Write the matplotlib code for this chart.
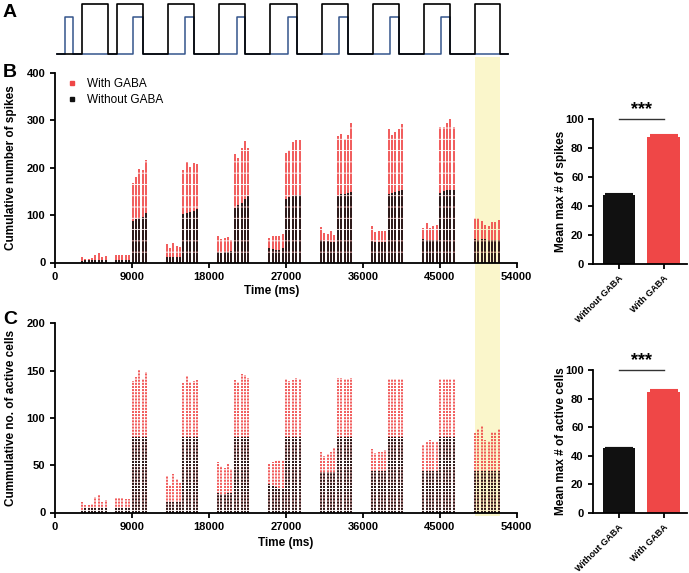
import numpy as np
import matplotlib
matplotlib.use("Agg")
import matplotlib.pyplot as plt
from matplotlib.lines import Line2D
from matplotlib.patches import Rectangle
from matplotlib.transforms import blended_transform_factory

plt.rcParams['font.family'] = ['Liberation Sans', 'DejaVu Sans']
plt.rcParams['font.weight'] = 'bold'
plt.rcParams['axes.labelweight'] = 'bold'
plt.rcParams['axes.linewidth'] = 1.3

RED = '#EF4747'
BLACK = '#111111'
BLUE = '#34558C'
YELLOW = '#FAF6CB'

# stimulus protocol (ms)
black_on = [3200, 7200, 13250, 19200, 25200, 31200, 37150, 43150, 49150]
black_off = [6150, 10250, 16250, 22250, 28250, 34250, 40250, 46200, 52050]
blue_on = [1150, 9150, 15200, 21250, 27200, 33200, 39200, 45200]
blue_off = [2050, 10250, 16250, 22250, 28250, 34250, 40250, 46200]
trace_start, trace_end = 250, 53000
highlight = (49150, 52050)

# first time bin of each stimulus cluster, bin step (ms)
cluster_start = [3150, 7100, 13050, 19050, 25050, 31100, 37050, 43070, 49130]
bin_step = 395

# B: cumulative number of spikes per bin
spikes_with = [
    [12, 8, 8, 10, 16, 20, 12, 13],
    [16, 16, 16, 16, 16, 168, 180, 198, 195, 216],
    [40, 31, 41, 35, 32, 196, 212, 202, 209, 207],
    [56, 50, 51, 54, 48, 229, 220, 242, 257, 241],
    [52, 56, 55, 56, 60, 232, 238, 255, 258, 259],
    [74, 63, 61, 66, 57, 266, 272, 260, 270, 294],
    [77, 65, 67, 67, 67, 282, 270, 275, 282, 293],
    [73, 83, 73, 76, 79, 285, 287, 295, 302, 285],
    [93, 93, 88, 80, 76, 86, 85, 89],
]
spikes_without = [
    [4, 5, 5, 5, 6, 6, 6, 6],
    [6, 6, 6, 6, 6, 87, 92, 94, 96, 104],
    [11, 11, 11, 11, 11, 103, 105, 106, 108, 113],
    [23, 20, 22, 22, 24, 116, 121, 126, 133, 140],
    [31, 28, 27, 27, 30, 134, 138, 141, 142, 142],
    [48, 46, 45, 43, 43, 141, 144, 144, 146, 148],
    [46, 44, 44, 44, 44, 145, 147, 149, 150, 152],
    [50, 47, 47, 47, 47, 147, 151, 152, 152, 153],
    [50, 48, 49, 50, 48, 47, 47, 47],
]

# C: cumulative number of active cells per bin
cells_with = [
    [11, 8, 8, 9, 16, 19, 11, 13],
    [15, 15, 15, 14, 14, 139, 143, 151, 141, 148],
    [39, 29, 41, 35, 31, 137, 144, 138, 139, 140],
    [53, 49, 47, 52, 46, 140, 138, 146, 145, 142],
    [52, 53, 54, 55, 55, 141, 139, 140, 142, 141],
    [64, 60, 62, 64, 68, 142, 142, 141, 141, 142],
    [67, 63, 64, 64, 66, 141, 141, 141, 141, 141],
    [71, 75, 77, 74, 74, 141, 141, 141, 141, 141],
    [84, 88, 91, 77, 76, 85, 85, 88],
]
cells_without = [
    [3, 5, 5, 5, 5, 5, 5, 5],
    [5, 5, 5, 5, 5, 80, 80, 80, 80, 80],
    [11, 11, 11, 11, 11, 80, 80, 80, 80, 80],
    [21, 20, 20, 21, 21, 80, 80, 80, 80, 80],
    [30, 28, 27, 26, 26, 80, 80, 80, 80, 80],
    [43, 43, 43, 43, 43, 80, 80, 80, 80, 80],
    [44, 44, 44, 44, 44, 80, 80, 80, 80, 80],
    [44, 44, 44, 44, 44, 80, 80, 80, 80, 80],
    [44, 44, 44, 44, 44, 44, 44, 44],
]

# bar summaries
groups = ['Without GABA', 'With GABA']
max_spikes = [47.8, 87.5]
max_spikes_sem = [0.5, 1.5]
max_cells = [45.2, 84.5]
max_cells_sem = [0.3, 1.5]

W, H = 689, 573
fig = plt.figure(figsize=(W / 100, H / 100), dpi=100)


def px_axes(left, top, right, bottom):
    ax = fig.add_axes([left / W, 1 - bottom / H, (right - left) / W, (bottom - top) / H])
    ax.set_facecolor('none')
    return ax


def square_wave(ons, offs, level):
    t, y = [trace_start], [0]
    for a, b in zip(ons, offs):
        t += [a, a, b, b]
        y += [0, level, level, 0]
    t.append(trace_end)
    y.append(0)
    return t, y


def style_axis(ax):
    for s in ['top', 'right']:
        ax.spines[s].set_visible(False)
    ax.tick_params(width=1.3, length=3.5, labelsize=8, direction='out')


def bold_ticks(ax):
    for lbl in ax.get_xticklabels() + ax.get_yticklabels():
        lbl.set_fontweight('bold')


def draw_columns(ax, with_vals, without_vals, ls):
    for start, w, wo in zip(cluster_start, with_vals, without_vals):
        t = start + bin_step * np.arange(len(w))
        ax.vlines(t, 0, w, colors=RED, lw=1.25, linestyles=[ls], capstyle='butt')
        ax.vlines(t, 0, wo, colors=BLACK, lw=1.25, linestyles=[ls], capstyle='butt')


# ---- panel A ----
axA = px_axes(55, 0, 516.7, 60)
axA.axis('off')
axA.set_xlim(0, 54000)
axA.set_ylim(-0.114, 1.086)
tb, yb = square_wave(blue_on, blue_off, 0.74)
axA.plot(tb, yb, color=BLUE, lw=1.1)
tk, yk = square_wave(black_on, black_off, 1.0)
axA.plot(tk, yk, color='black', lw=1.2)

# ---- panel B ----
axB = px_axes(55, 73, 516.7, 262.5)
style_axis(axB)
draw_columns(axB, spikes_with, spikes_without, (0, (6, 0.5)))
axB.set_xlim(0, 54000)
axB.set_ylim(0, 400)
axB.set_xticks(np.arange(0, 54001, 9000))
axB.set_yticks([0, 100, 200, 300, 400])
bold_ticks(axB)
axB.set_xlabel('Time (ms)', fontsize=8.5)
axB.set_ylabel('Cumulative number of spikes', fontsize=8.5)
axB.yaxis.set_label_coords(-0.082, 0.5)
axB.xaxis.set_label_coords(0.47, -0.12)
leg_handles = [Line2D([], [], marker='s', color=RED, ls='none', markersize=2.5),
               Line2D([], [], marker='s', color=BLACK, ls='none', markersize=2.5)]
axB.legend(leg_handles, ['With GABA', 'Without GABA'], loc='upper left',
           bbox_to_anchor=(-0.005, 1.03), frameon=False, handletextpad=0.5,
           labelspacing=0.35, handlelength=1.5,
           prop={'size': 8.5, 'weight': 'normal'})

# ---- panel C ----
axC = px_axes(55, 323.3, 516.7, 512.5)
style_axis(axC)
draw_columns(axC, cells_with, cells_without, (0, (1.2, 0.6)))
axC.set_xlim(0, 54000)
axC.set_ylim(0, 200)
axC.set_xticks(np.arange(0, 54001, 9000))
axC.set_yticks([0, 50, 100, 150, 200])
bold_ticks(axC)
axC.set_xlabel('Time (ms)', fontsize=8.5)
axC.set_ylabel('Cummulative no. of active cells', fontsize=8.5)
axC.yaxis.set_label_coords(-0.082, 0.5)
axC.xaxis.set_label_coords(0.5, -0.13)

# yellow highlight spanning all panels
trans = blended_transform_factory(axB.transData, fig.transFigure)
fig.patches.append(Rectangle((highlight[0], 1 - 516 / H), highlight[1] - highlight[0],
                             (516 - 57) / H, transform=trans, color=YELLOW,
                             zorder=-5, lw=0))


# ---- bar panels ----
def bar_panel(top, bottom, vals, sems, ylabel):
    ax = px_axes(593.3, top, 687, bottom)
    style_axis(ax)
    x = np.arange(len(vals))
    ax.bar(x, vals, width=0.72, color=[BLACK, RED])
    for xi, v, e, c in zip(x, vals, sems, [BLACK, RED]):
        ax.errorbar(xi, v, yerr=[[0], [e]], fmt='none', ecolor=c, capsize=10,
                    elinewidth=1.2, capthick=1.5)
    ax.set_xlim(-0.567, 1.52)
    ax.set_ylim(0, 100)
    ax.set_yticks(np.arange(0, 101, 20))
    ax.set_xticks(x)
    ax.set_xticklabels(groups, rotation=45, ha='right', rotation_mode='anchor',
                       fontsize=6.5)
    bold_ticks(ax)
    ax.set_ylabel(ylabel, fontsize=8.5)
    ax.yaxis.set_label_coords(-0.28, 0.5)
    ax.plot([0, 1], [100, 100], color='#333333', lw=1, clip_on=False)
    ax.text(0.5, 100.5, '***', ha='center', va='bottom', fontsize=13,
            fontweight='bold', clip_on=False)
    return ax


bar_panel(119.3, 264, max_spikes, max_spikes_sem, 'Mean max # of spikes')
bar_panel(370, 512.7, max_cells, max_cells_sem, 'Mean max # of active cells')

# panel letters
for letter, y in [('A', 4), ('B', 64), ('C', 311)]:
    fig.text(3 / W, 1 - y / H, letter, fontsize=14, fontweight='bold', va='top')

fig.savefig('out.png', dpi=100)
